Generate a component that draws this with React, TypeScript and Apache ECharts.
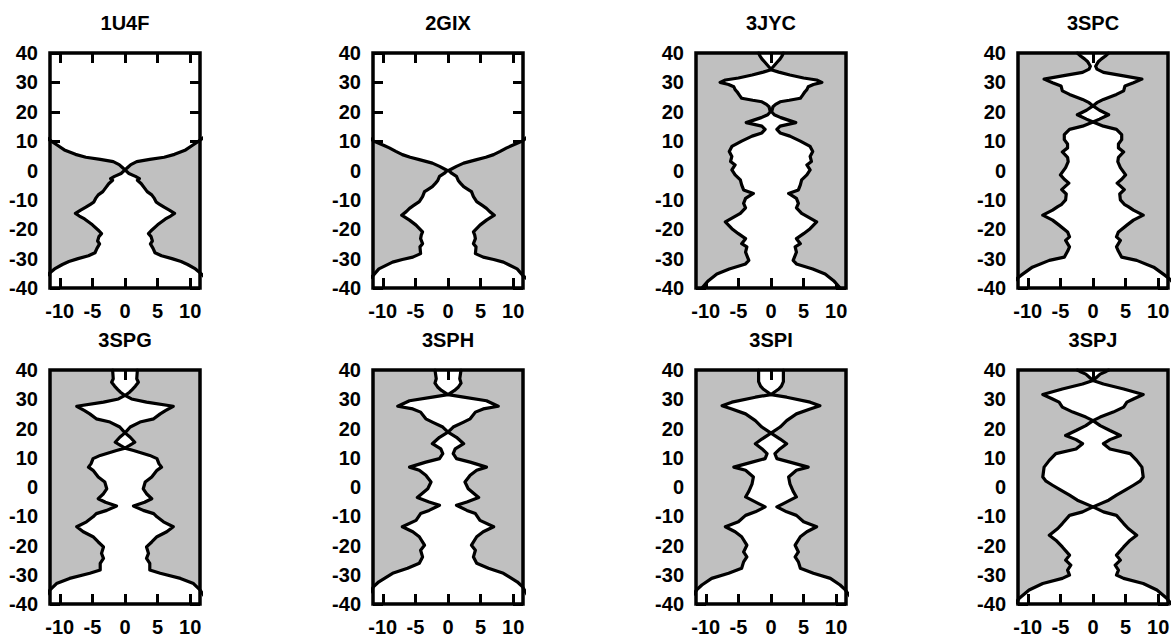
import React, { useEffect, useRef } from 'react';
import * as echarts from 'echarts';

// Pore radius profiles: [z (Å), radius (Å)], plotted as ±radius.
const titles = ['1U4F', '2GIX', '3JYC', '3SPC', '3SPG', '3SPH', '3SPI', '3SPJ'];

const prof1U4F: number[][] = [
  [40, 14], [12, 12.5], [10, 11.3], [8.5, 10.3], [7, 9.3], [5.5, 7.6], [4.5, 6.0], [3.8, 3.8], [3.0, 1.8],
  [2.0, 0.9], [1.0, 0.4], [0.2, 0.0], [-1.0, 0.6], [-2.0, 1.6], [-2.8, 2.2], [-3.3, 1.9], [-4.5, 2.5],
  [-6, 3.0], [-7.2, 3.4], [-8.3, 4.1], [-9.5, 4.5], [-10.8, 4.8], [-11.5, 5.3], [-12.5, 6.0], [-13.5, 6.8],
  [-14.6, 7.6], [-15.5, 7.0], [-16.5, 6.2], [-18.5, 5.0], [-20.5, 4.0], [-21.5, 3.6], [-22.5, 4.0],
  [-24, 4.2], [-25, 3.9], [-26.5, 4.3], [-28, 4.6], [-29, 5.6], [-30, 7.2], [-31, 8.6], [-32, 9.6],
  [-33.5, 10.8], [-35, 11.6], [-40, 14],
];
const prof2GIX: number[][] = [
  [40, 14], [12, 12.5], [10, 11.4], [8.5, 9.8], [7.7, 9.0], [6.5, 8.0], [5.4, 7.0], [4.5, 5.8], [3.7, 4.4],
  [2.5, 2.4], [1.4, 1.3], [0, 0.1], [-1, 0.6], [-2, 1.3], [-3.5, 1.6], [-4.3, 1.9], [-5.5, 2.4], [-6.5, 3.1],
  [-7.2, 3.6], [-8.9, 3.9], [-10.6, 4.4], [-11.8, 5.2], [-12.9, 5.9], [-14, 6.4], [-15.2, 7.1], [-16.9, 5.9],
  [-18.6, 4.9], [-20.9, 3.9], [-22, 4.1], [-23.2, 4.2], [-24.9, 3.9], [-26, 4.3], [-28.3, 4.2], [-29.5, 5.4],
  [-30.3, 7.0], [-31.2, 8.5], [-33.5, 10.6], [-35.8, 11.5], [-40, 14],
];
const prof3JYC: number[][] = [
  [40, 1.9], [39, 1.7], [38, 1.4], [37, 1.0], [36, 0.6], [35, 0.2], [34.3, 0.0], [33.5, 1.2], [32.5, 2.9],
  [31.5, 5.0], [30.8, 7.0], [30.0, 7.8], [29.3, 6.5], [28.5, 5.7], [27.5, 5.5], [26.8, 5.2], [25.5, 4.8],
  [24.6, 4.5], [23.9, 2.8], [23.4, 1.4], [22.5, 0.7], [21.7, 0.3], [20, 0.1], [19, 0.5], [18, 1.5],
  [16.3, 3.8], [15.1, 1.4], [14, 0.9], [12.8, 1.4], [11.7, 2.9], [10, 4.5], [8.2, 6.0], [6.5, 6.4],
  [4.8, 6.0], [3.1, 6.2], [1.9, 5.5], [0.2, 6.0], [-1.5, 5.5], [-3.2, 4.7], [-4.9, 4.5], [-6.6, 4.2],
  [-7.8, 2.7], [-9.5, 3.9], [-11.2, 4.2], [-12.7, 3.9], [-14.6, 4.7], [-17.5, 7.0], [-19.8, 6.0],
  [-21.5, 5.0], [-23.2, 3.9], [-24.9, 4.5], [-26, 3.7], [-27.8, 3.9], [-30.6, 3.4], [-31.8, 3.9],
  [-33.5, 6.4], [-35.2, 8.3], [-37.5, 9.6], [-39, 10.2], [-40, 10.6],
];
const prof3SPC: number[][] = [
  [40, 2.4], [39, 1.9], [38, 1.3], [37, 0.8], [35.5, 0.4], [34.5, 0.6], [33.4, 1.6], [32.2, 4.7], [31.1, 7.5],
  [29.9, 6.2], [28.8, 4.9], [27.1, 4.7], [25.9, 3.6], [24.2, 1.6], [23.1, 0.6], [22, 0.0], [20.5, 1.0],
  [19, 2.4], [17.5, 1.0], [16.5, 0.0], [15.1, 1.6], [14, 3.6], [12.2, 4.4], [10.5, 4.4], [9, 3.9],
  [7.7, 3.9], [6.3, 4.7], [4.5, 3.9], [3, 3.8], [1, 4.2], [-1.5, 5.0], [-3, 4.4], [-4.3, 3.7], [-5.5, 4.3],
  [-6.5, 4.8], [-8, 4.1], [-10, 4.2], [-11.5, 4.8], [-12.3, 5.4], [-13.5, 6.2], [-15.2, 7.7], [-16.9, 6.2],
  [-18.6, 5.2], [-20.9, 3.9], [-22.6, 3.6], [-23.8, 4.2], [-26, 3.6], [-27.5, 3.9], [-29.5, 4.4],
  [-30.6, 6.7], [-32.9, 9.3], [-35.8, 11.1], [-37, 11.8], [-40, 13],
];
const prof3SPG: number[][] = [
  [40, 1.9], [37, 1.8], [35.8, 2.05], [34.5, 1.6], [33.3, 1.1], [32.4, 0.7], [31.3, 0.0], [30.1, 1.0],
  [29, 3.3], [27.6, 7.4], [26.1, 6.2], [25, 5.4], [23.3, 4.4], [22.2, 2.3], [20.5, 0.8], [18.5, 0.0],
  [17, 0.8], [15.3, 1.5], [14.2, 0.7], [13.3, 0.0], [12.5, 1.3], [10.8, 3.8], [9.7, 4.9], [8, 5.2],
  [6.8, 5.6], [5.7, 4.9], [3.4, 4.1], [1.7, 3.1], [-0.6, 2.8], [-2.3, 3.3], [-4, 4.1], [-5.2, 3.0],
  [-6.5, 1.3], [-8, 2.8], [-9.1, 4.4], [-10.2, 4.9], [-11.9, 5.9], [-13.6, 7.4], [-15.3, 6.4], [-17, 4.9],
  [-18.8, 4.1], [-20.5, 3.3], [-22.7, 3.6], [-24.4, 3.3], [-26.1, 3.8], [-28.4, 3.8], [-29.5, 5.4],
  [-31.25, 8.5], [-33, 10.5], [-35.2, 11.5], [-40, 13],
];
const prof3SPH: number[][] = [
  [40, 2.0], [37, 1.8], [35.5, 2.0], [34.2, 1.6], [33, 1.0], [31.6, 0.0], [30.7, 2.4], [29.5, 5.9],
  [27.6, 7.7], [26.7, 5.4], [25.6, 4.2], [23.3, 3.4], [22.2, 2.4], [20.5, 0.8], [18.75, 0.0], [17, 1.3],
  [14.8, 2.4], [13, 1.1], [11.4, 0.8], [9.7, 1.3], [8.5, 3.4], [6.8, 5.9], [5.7, 4.4], [4, 3.4], [1.7, 2.6],
  [-0.6, 3.1], [-3.6, 4.7], [-5.1, 2.9], [-6.25, 1.3], [-8, 2.9], [-9.1, 4.2], [-11.4, 4.9], [-13.6, 7.0],
  [-15.3, 5.4], [-17, 4.4], [-19.9, 3.6], [-21.6, 4.2], [-23.9, 3.9], [-26.1, 4.4], [-27.8, 6.2],
  [-29.5, 8.5], [-32.4, 10.6], [-34, 11.4], [-40, 13],
];
const prof3SPI: number[][] = [
  [40, 1.9], [36, 1.9], [34.5, 1.6], [33.5, 1.2], [31.6, 0.0], [30.7, 2.4], [29, 6.0], [27.8, 7.5],
  [26.7, 6.0], [25, 3.9], [22.7, 2.4], [20.5, 1.4], [18.4, 0.0], [16.4, 1.4], [14.8, 2.4], [13.1, 1.4],
  [11.4, 0.6], [9.7, 0.9], [8.5, 2.9], [6.8, 5.7], [5.7, 3.9], [3.4, 2.7], [1.1, 2.9], [-1.5, 3.4],
  [-3.4, 3.9], [-5.7, 1.9], [-6.8, 0.9], [-8.5, 2.4], [-9.7, 3.9], [-11.9, 5.0], [-13.6, 7.0], [-15.3, 5.5],
  [-17, 4.5], [-19.9, 3.7], [-22.2, 4.2], [-23.9, 3.7], [-25.6, 4.2], [-27.8, 4.5], [-29.5, 6.5],
  [-31.25, 9.1], [-33.5, 10.6], [-35.2, 11.4], [-40, 13],
];
const prof3SPJ: number[][] = [
  [40, 2.4], [39.5, 2.0], [38.6, 1.1], [36.4, 0.0], [35.2, 1.6], [33.5, 4.7], [31.6, 7.7], [30.1, 6.2],
  [29, 5.2], [27.3, 4.7], [25.6, 3.1], [23.9, 1.1], [22.7, 0.0], [21, 1.1], [19.3, 2.6], [17.6, 4.2],
  [16.2, 2.6], [14.8, 1.6], [13, 2.6], [11.4, 5.7], [9.1, 6.7], [6.8, 7.5], [3.4, 7.7], [2, 7.2],
  [0.6, 6.2], [-1, 5.0], [-2.8, 3.6], [-4.5, 2.4], [-6.8, 0.0], [-8.5, 1.6], [-9.7, 3.6], [-12.5, 4.7],
  [-14.2, 5.4], [-16.5, 6.7], [-18.2, 5.7], [-20.5, 4.7], [-23.3, 3.6], [-25, 4.2], [-26.7, 3.4],
  [-28.4, 3.9], [-30.1, 3.6], [-31.25, 4.7], [-33, 7.7], [-35.2, 9.8], [-38, 11.3], [-40, 12],
];

const profiles = [prof1U4F, prof2GIX, prof3JYC, prof3SPC, prof3SPG, prof3SPH, prof3SPI, prof3SPJ];
const xTickValues = [-10, -5, 0, 5, 10];
const X_LIMIT = 11.5;
const Z_MIN = -40;
const Z_MAX = 40;
const Z_STEP = 10;

const FONT = '"Liberation Sans", Arial, Helvetica, sans-serif';
const FONT_SIZE = 20;
const GRAY = '#c0c0c0';
const COL_LEFT = [50, 373, 696, 1018];
const ROW_TOP = [53, 370];
const ROW_H = [235, 234];
const PANEL_W = 150;

function fillRenderer(profile: number[][]) {
  return (params: any, api: any) => {
    const cs = params.coordSys;
    const x0 = cs.x, x1 = cs.x + cs.width, y0 = cs.y, y1 = cs.y + cs.height;
    const clamp = (p: number[]) => [Math.max(x0, Math.min(x1, p[0])), Math.max(y0, Math.min(y1, p[1]))];
    const zFirst = profile[0][0];
    const zLast = profile[profile.length - 1][0];
    const leftPts = [api.coord([-X_LIMIT, zFirst])]
      .concat(profile.map(([z, r]) => api.coord([-r, z])))
      .concat([api.coord([-X_LIMIT, zLast])])
      .map(clamp);
    const rightPts = [api.coord([X_LIMIT, zFirst])]
      .concat(profile.map(([z, r]) => api.coord([r, z])))
      .concat([api.coord([X_LIMIT, zLast])])
      .map(clamp);
    return {
      type: 'group',
      children: [
        { type: 'polygon', shape: { points: leftPts }, style: { fill: GRAY, stroke: GRAY, lineWidth: 0.5 } },
        { type: 'polygon', shape: { points: rightPts }, style: { fill: GRAY, stroke: GRAY, lineWidth: 0.5 } },
        {
          type: 'rect',
          shape: { x: x0, y: y0, width: x1 - x0, height: y1 - y0 },
          style: { fill: 'none', stroke: '#000', lineWidth: 3.5 },
        },
      ],
    };
  };
}

export default function App() {
  const ref = useRef<HTMLDivElement>(null);
  useEffect(() => {
    const chart = echarts.init(ref.current!, null, { renderer: 'svg' });
    const grid: any[] = [];
    const xAxis: any[] = [];
    const yAxis: any[] = [];
    const series: any[] = [];
    const graphic: any[] = [];
    const tickStyle = { color: '#000', width: 3 };
    const labelStyle = { color: '#000', fontSize: FONT_SIZE, fontWeight: 'bold', fontFamily: FONT };
    const lineStyle = { color: '#000', width: 3.2, join: 'round', cap: 'round' };

    profiles.forEach((profile, i) => {
      const col = i % 4;
      const row = Math.floor(i / 4);
      const left = COL_LEFT[col];
      const top = ROW_TOP[row];
      grid.push({ left, top, width: PANEL_W, height: ROW_H[row], outerBoundsMode: 'none', containLabel: false });
      graphic.push({
        type: 'text',
        x: left + PANEL_W / 2,
        y: top - 30,
        style: {
          text: titles[i], textAlign: 'center', textVerticalAlign: 'middle',
          fill: '#000', fontSize: FONT_SIZE, fontWeight: 'bold', fontFamily: FONT,
        },
      });
      xAxis.push({
        gridIndex: i, type: 'value', min: -X_LIMIT, max: X_LIMIT, position: 'bottom',
        axisLine: { show: false, onZero: false },
        splitLine: { show: false },
        axisTick: { show: true, inside: true, length: 10, customValues: xTickValues, lineStyle: tickStyle },
        axisLabel: { ...labelStyle, margin: 15, lineHeight: 16, customValues: xTickValues },
      });
      yAxis.push({
        gridIndex: i, type: 'value', min: Z_MIN, max: Z_MAX, interval: Z_STEP, position: 'left',
        axisLine: { show: false, onZero: false },
        splitLine: { show: false },
        axisTick: { show: true, inside: true, length: 10, lineStyle: tickStyle },
        axisLabel: { ...labelStyle, margin: 12 },
      });
      series.push({
        type: 'custom', xAxisIndex: i, yAxisIndex: i, z: 2, silent: true,
        data: [[0, 0]], renderItem: fillRenderer(profile),
      });
      series.push({
        type: 'line', xAxisIndex: i, yAxisIndex: i, z: 3, silent: true, symbol: 'none', clip: true,
        data: profile.map(([z, r]) => [-r, z]),
        lineStyle,
      });
      series.push({
        type: 'line', xAxisIndex: i, yAxisIndex: i, z: 3, silent: true, symbol: 'none', clip: true,
        data: profile.map(([z, r]) => [r, z]),
        lineStyle,
      });
    });
    // mirrored axes (top / right) carry only inward ticks
    profiles.forEach((_, i) => {
      xAxis.push({
        gridIndex: i, type: 'value', min: -X_LIMIT, max: X_LIMIT, position: 'top',
        axisLine: { show: false, onZero: false }, splitLine: { show: false },
        axisTick: { show: true, inside: true, length: 10, customValues: xTickValues, lineStyle: tickStyle },
        axisLabel: { show: false },
      });
      yAxis.push({
        gridIndex: i, type: 'value', min: Z_MIN, max: Z_MAX, interval: Z_STEP, position: 'right',
        axisLine: { show: false, onZero: false }, splitLine: { show: false },
        axisTick: { show: true, inside: true, length: 10, lineStyle: tickStyle },
        axisLabel: { show: false },
      });
    });

    chart.setOption({
      animation: false,
      backgroundColor: '#fff',
      grid, xAxis, yAxis, series, graphic,
    });
    return () => chart.dispose();
  }, []);
  return (
    <div
      ref={ref}
      style={{ position: 'absolute', left: 0, top: 0, width: 1175, height: 637, background: '#fff' }}
    />
  );
}
